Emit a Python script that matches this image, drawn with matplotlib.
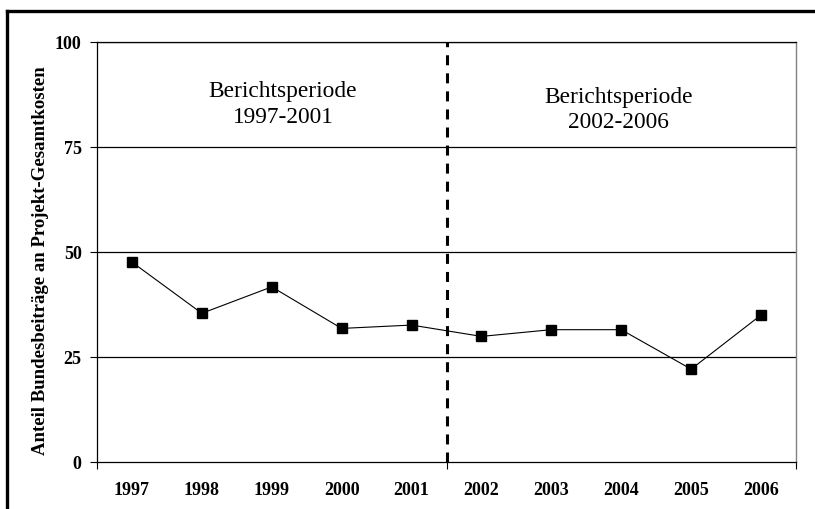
import matplotlib

matplotlib.use("Agg")
import matplotlib.pyplot as plt
from matplotlib.lines import Line2D
import numpy as np

plt.rcParams["font.family"] = ["Liberation Serif", "DejaVu Serif"]
plt.rcParams["lines.scale_dashes"] = False

# ---- data ----
years = ["1997", "1998", "1999", "2000", "2001", "2002", "2003", "2004", "2005", "2006"]
shares = [47.5, 35.3, 41.6, 31.7, 32.5, 29.8, 31.4, 31.4, 22.0, 34.9]
y_ticks = [0, 25, 50, 75, 100]
period_labels = ["Berichtsperiode\n1997-2001", "Berichtsperiode\n2002-2006"]

W, H = 815, 510
fig = plt.figure(figsize=(W / 100, H / 100), dpi=100)
ax = fig.add_axes([97 / W, 1 - 462.5 / H, (796 - 97) / W, (462.5 - 42.7) / H])

x = np.arange(len(years))
ax.plot(x, shares, color="black", linewidth=0.8, marker="s", markersize=7.2,
        markerfacecolor="black", markeredgecolor="black", zorder=4)

# period separator
ax.axvline(4.5, color="black", linewidth=2.2, dashes=(7.2, 5.8), zorder=3)

# horizontal grid
for v in y_ticks[1:]:
    ax.axhline(v, color="black", linewidth=0.9, zorder=1)

ax.text(2.16, 80.9, period_labels[0], ha="center", va="baseline", fontsize=16.8, linespacing=1.3)
ax.text(6.96, 79.6, period_labels[1], ha="center", va="baseline", fontsize=16.8, linespacing=1.3)

ax.set_xlim(-0.5, 9.5)
ax.set_ylim(0, 100)

# x: only a few short marks below the axis, labels centered on categories
ax.set_xticks([-0.5, 4.5, 9.5])
ax.set_xticklabels([])
ax.set_xticks(x, minor=True)
ax.set_xticklabels(years, minor=True, fontsize=13, fontweight="bold")
ax.tick_params(axis="x", which="major", direction="out", length=5, width=0.8)
ax.tick_params(axis="x", which="minor", length=0, pad=14)
ax.set_yticks(y_ticks)
ax.set_yticklabels([str(v) for v in y_ticks], fontsize=13, fontweight="bold")
ax.tick_params(axis="y", direction="out", length=5, width=0.8, pad=6)

for s in ["left", "bottom", "top"]:
    ax.spines[s].set_linewidth(0.9)
    ax.spines[s].set_color("black")
ax.spines["right"].set_color("#808080")
ax.spines["right"].set_linewidth(1.0)

fig.text(41 / W, 1 - 261 / H, "Anteil Bundesbeiträge an Projekt-Gesamtkosten",
         rotation=90, ha="center", va="center", fontsize=13.5, fontweight="bold")

# outer frame (top and left edges visible)
fig.add_artist(Line2D([6.5 / W, 1.0], [1 - 11.5 / H, 1 - 11.5 / H],
                      transform=fig.transFigure, color="black", linewidth=2.4))
fig.add_artist(Line2D([6.5 / W, 6.5 / W], [1 - 11.5 / H, 0.0],
                      transform=fig.transFigure, color="black", linewidth=2.4))

fig.savefig("out.png", dpi=100)
